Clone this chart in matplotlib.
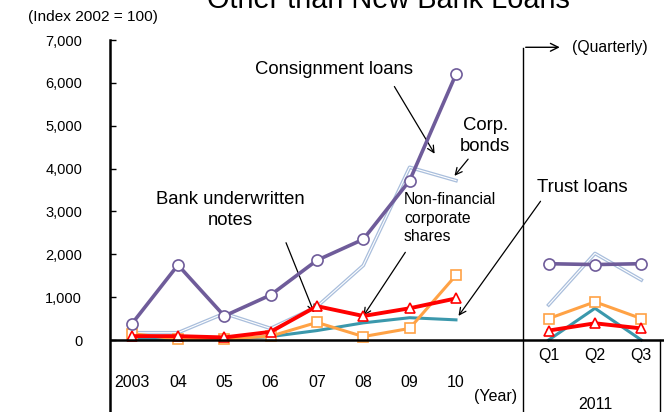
import numpy as np
import matplotlib.pyplot as plt

plt.rcParams['font.family'] = ['Liberation Sans', 'DejaVu Sans']

# Datos (indice 2002 = 100)
years = ["2003", "04", "05", "06", "07", "08", "09", "10"]
quarters = ["Q1", "Q2", "Q3"]

consignment = [370, 1750, 560, 1050, 1860, 2350, 3720, 6200]
consignment_q = [1780, 1760, 1780]

corp_bonds = [170, 170, 620, 270, 780, 1740, 4030, 3720]
corp_bonds_q = [820, 2020, 1400]

shares = [150, 20, 20, 90, 410, 80, 270, 1510]
shares_q = [500, 890, 500]

bank_notes = [90, 90, 60, 190, 790, 560, 740, 970]
bank_notes_q = [220, 390, 270]

trust = [30, 30, 10, 80, 220, 400, 520, 470]
trust_q = [0, 740, 0]

xy = np.arange(len(years))
xq = np.arange(len(quarters)) + len(years) + 1

fig = plt.figure(figsize=(6.64, 4.12), dpi=100)
ax = fig.add_axes([110 / 664, 0, 1 - 110 / 664, 1 - 40 / 412])
ax.set_xlim(-0.467, 11.49)
ax.set_ylim(-1680, 7000)

purple = '#6F5C9A'
lblue = '#A9BEDC'
orange = '#FFA245'
red = '#FF0000'
teal = '#3B98AC'

for xs, a, b, c, d, e in [(xy, consignment, corp_bonds, shares, bank_notes, trust),
                          (xq, consignment_q, corp_bonds_q, shares_q, bank_notes_q, trust_q)]:
    ax.plot(xs, e, color=teal, lw=2.2, zorder=2)
    ax.plot(xs, b, color=lblue, lw=2.6, zorder=3)
    ax.plot(xs, b, color='white', lw=0.8, zorder=3)
    ax.plot(xs, c, color=orange, lw=2.2, marker='s', ms=7, mfc='white', mec=orange, mew=1.2, zorder=4)
    ax.plot(xs, d, color=red, lw=2.8, marker='^', ms=7, mfc='white', mec=red, mew=1.2, zorder=5)
    ax.plot(xs, a, color=purple, lw=2.6, marker='o', ms=8, mfc='white', mec=purple, mew=1.2, zorder=6)

# Ejes
for s in ['top', 'right', 'bottom']:
    ax.spines[s].set_visible(False)
ax.spines['left'].set_linewidth(1.8)
ax.set_yticks(range(0, 7001, 1000))
ax.set_yticklabels([f"{v:,}" for v in range(0, 7001, 1000)], fontsize=10.5)
ax.tick_params(axis='y', direction='in', length=4, width=1, pad=20)
ax.set_xticks([])
ax.axhline(0, color='black', lw=1.8, zorder=7)
ax.plot([8.445, 8.445], [-1680, 6820], color='black', lw=1, clip_on=False)
ax.plot([11.41, 11.41], [-1680, 0], color='black', lw=1)
ax.annotate('', xy=(9.3, 6830), xytext=(8.445, 6830),
            arrowprops=dict(arrowstyle='->', color='black', lw=1, mutation_scale=14))
ax.text(9.5, 6830, "(Quarterly)", fontsize=11.3, va='center', ha='left')

for x, lab in zip(xy, years):
    ax.text(x, -990, lab, fontsize=11.5, ha='center', va='center')
for x, lab in zip(xq, quarters):
    ax.text(x, -360, lab, fontsize=11.5, ha='center', va='center')
ax.text(7.85, -1320, "(Year)", fontsize=11.5, ha='center', va='center')
ax.text(10, -1500, "2011", fontsize=11.5, ha='center', va='center')

# Etiquetas con flechas
arw = dict(arrowstyle='->', color='black', lw=0.9, mutation_scale=12)
ax.text(4.37, 6300, "Consignment loans", fontsize=13.3, ha='center', va='center')
ax.annotate('', xy=(6.57, 4290), xytext=(5.64, 5970), arrowprops=arw)
ax.text(7.63, 4760, "Corp.\nbonds", fontsize=13.3, ha='center', va='center', linespacing=1.35)
ax.annotate('', xy=(6.93, 3780), xytext=(7.3, 4270), arrowprops=arw)
ax.text(2.12, 3030, "Bank underwritten\nnotes", fontsize=13.3, ha='center', va='center', linespacing=1.3)
ax.annotate('', xy=(3.96, 580), xytext=(3.31, 2330), arrowprops=arw)
ax.text(5.88, 2846, "Non-financial\ncorporate\nshares", fontsize=11.3, ha='left', va='center', linespacing=1.33)
ax.annotate('', xy=(4.97, 510), xytext=(5.94, 2100), arrowprops=arw)
ax.text(9.72, 3560, "Trust loans", fontsize=13.3, ha='center', va='center')
ax.annotate('', xy=(7.02, 510), xytext=(8.86, 3290), arrowprops=arw)

fig.text(28 / 664, 1 - 17 / 412, "(Index 2002 = 100)", fontsize=11.1, ha='left', va='center')
fig.text(388 / 664, 1 - 8 / 412, "Other than New Bank Loans", fontsize=20.8, ha='center', va='baseline')

fig.savefig("out.png", dpi=100)
